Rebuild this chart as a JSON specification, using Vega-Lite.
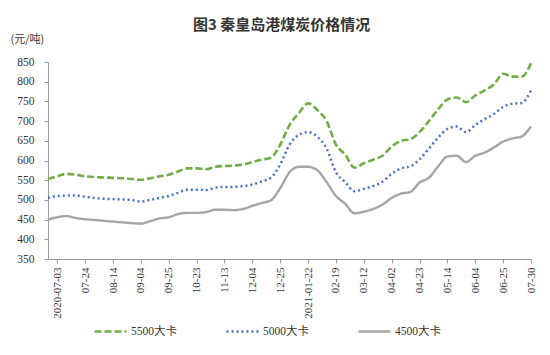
{
  "$schema": "https://vega.github.io/schema/vega-lite/v6.json",
  "width": 483,
  "height": 197,
  "autosize": {"type": "none"},
  "padding": {"left": 48, "top": 62, "right": 19, "bottom": 96},
  "background": "white",
  "title": {
    "text": "图3 秦皇岛港煤炭价格情况",
    "font": "Noto Sans CJK SC",
    "fontSize": 15,
    "fontWeight": "bold",
    "color": "#333333",
    "anchor": "middle",
    "frame": "group",
    "dx": -8,
    "offset": 0
  },
  "data": {
    "values": [
      {"date": "2020-06-26", "5500大卡": 553, "5000大卡": 505, "4500大卡": 450},
      {"date": "2020-07-03", "5500大卡": 560, "5000大卡": 510, "4500大卡": 456},
      {"date": "2020-07-10", "5500大卡": 566, "5000大卡": 511, "4500大卡": 459},
      {"date": "2020-07-17", "5500大卡": 564, "5000大卡": 511, "4500大卡": 454},
      {"date": "2020-07-24", "5500大卡": 560, "5000大卡": 508, "4500大卡": 451},
      {"date": "2020-07-31", "5500大卡": 558, "5000大卡": 505, "4500大卡": 449},
      {"date": "2020-08-07", "5500大卡": 557, "5000大卡": 503, "4500大卡": 447},
      {"date": "2020-08-14", "5500大卡": 556, "5000大卡": 502, "4500大卡": 445},
      {"date": "2020-08-21", "5500大卡": 555, "5000大卡": 501, "4500大卡": 443},
      {"date": "2020-08-28", "5500大卡": 553, "5000大卡": 500, "4500大卡": 441},
      {"date": "2020-09-04", "5500大卡": 551, "5000大卡": 496, "4500大卡": 440},
      {"date": "2020-09-11", "5500大卡": 555, "5000大卡": 500, "4500大卡": 446},
      {"date": "2020-09-18", "5500大卡": 560, "5000大卡": 505, "4500大卡": 453},
      {"date": "2020-09-25", "5500大卡": 564, "5000大卡": 510, "4500大卡": 456},
      {"date": "2020-10-09", "5500大卡": 572, "5000大卡": 518, "4500大卡": 464},
      {"date": "2020-10-16", "5500大卡": 580, "5000大卡": 526, "4500大卡": 467},
      {"date": "2020-10-23", "5500大卡": 580, "5000大卡": 526, "4500大卡": 467},
      {"date": "2020-10-30", "5500大卡": 578, "5000大卡": 525, "4500大卡": 469},
      {"date": "2020-11-06", "5500大卡": 584, "5000大卡": 531, "4500大卡": 475},
      {"date": "2020-11-13", "5500大卡": 586, "5000大卡": 533, "4500大卡": 475},
      {"date": "2020-11-20", "5500大卡": 587, "5000大卡": 533, "4500大卡": 474},
      {"date": "2020-11-27", "5500大卡": 590, "5000大卡": 535, "4500大卡": 477},
      {"date": "2020-12-04", "5500大卡": 596, "5000大卡": 539, "4500大卡": 485},
      {"date": "2020-12-11", "5500大卡": 602, "5000大卡": 547, "4500大卡": 492},
      {"date": "2020-12-18", "5500大卡": 607, "5000大卡": 556, "4500大卡": 499},
      {"date": "2020-12-25", "5500大卡": 640, "5000大卡": 590, "4500大卡": 530},
      {"date": "2021-01-08", "5500大卡": 690, "5000大卡": 640, "4500大卡": 570},
      {"date": "2021-01-15", "5500大卡": 720, "5000大卡": 665, "4500大卡": 584},
      {"date": "2021-01-22", "5500大卡": 745, "5000大卡": 672, "4500大卡": 584},
      {"date": "2021-01-29", "5500大卡": 728, "5000大卡": 660, "4500大卡": 575},
      {"date": "2021-02-05", "5500大卡": 700, "5000大卡": 630, "4500大卡": 545},
      {"date": "2021-02-19", "5500大卡": 640, "5000大卡": 570, "4500大卡": 510},
      {"date": "2021-02-26", "5500大卡": 615, "5000大卡": 545, "4500大卡": 490},
      {"date": "2021-03-05", "5500大卡": 582, "5000大卡": 522, "4500大卡": 466},
      {"date": "2021-03-12", "5500大卡": 593, "5000大卡": 528, "4500大卡": 470},
      {"date": "2021-03-19", "5500大卡": 602, "5000大卡": 535, "4500大卡": 477},
      {"date": "2021-03-26", "5500大卡": 612, "5000大卡": 546, "4500大卡": 488},
      {"date": "2021-04-02", "5500大卡": 635, "5000大卡": 566, "4500大卡": 505},
      {"date": "2021-04-09", "5500大卡": 650, "5000大卡": 580, "4500大卡": 516},
      {"date": "2021-04-16", "5500大卡": 654, "5000大卡": 585, "4500大卡": 520},
      {"date": "2021-04-23", "5500大卡": 672, "5000大卡": 603, "4500大卡": 544},
      {"date": "2021-04-30", "5500大卡": 700, "5000大卡": 630, "4500大卡": 556},
      {"date": "2021-05-07", "5500大卡": 730, "5000大卡": 658, "4500大卡": 585},
      {"date": "2021-05-14", "5500大卡": 755, "5000大卡": 680, "4500大卡": 610},
      {"date": "2021-05-21", "5500大卡": 760, "5000大卡": 686, "4500大卡": 612},
      {"date": "2021-05-28", "5500大卡": 748, "5000大卡": 672, "4500大卡": 596},
      {"date": "2021-06-04", "5500大卡": 765, "5000大卡": 690, "4500大卡": 612},
      {"date": "2021-06-11", "5500大卡": 778, "5000大卡": 705, "4500大卡": 620},
      {"date": "2021-06-18", "5500大卡": 793, "5000大卡": 718, "4500大卡": 633},
      {"date": "2021-06-25", "5500大卡": 820, "5000大卡": 736, "4500大卡": 648},
      {"date": "2021-07-09", "5500大卡": 813, "5000大卡": 744, "4500大卡": 656},
      {"date": "2021-07-16", "5500大卡": 813, "5000大卡": 746, "4500大卡": 661},
      {"date": "2021-07-30", "5500大卡": 847, "5000大卡": 778, "4500大卡": 687}
    ]
  },
  "transform": [
    {"fold": ["5500大卡", "5000大卡", "4500大卡"], "as": ["series", "price"]}
  ],
  "mark": {"type": "line", "interpolate": "monotone"},
  "encoding": {
    "x": {
      "field": "date",
      "type": "ordinal",
      "scale": {"type": "point", "padding": 0},
      "axis": {
        "title": null,
        "values": ["2020-07-03", "2020-07-24", "2020-08-14", "2020-09-04", "2020-09-25", "2020-10-23", "2020-11-13", "2020-12-04", "2020-12-25", "2021-01-22", "2021-02-19", "2021-03-12", "2021-04-02", "2021-04-23", "2021-05-14", "2021-06-04", "2021-06-25", "2021-07-30"],
        "labelExpr": "datum.value == '2020-07-03' || datum.value == '2021-01-22' ? datum.value : slice(datum.value, 5)",
        "labelAngle": -90,
        "labelAlign": "right",
        "labelBaseline": "middle",
        "labelFont": "Liberation Serif",
        "labelFontSize": 11,
        "labelColor": "#333333",
        "labelPadding": 4,
        "labelOverlap": false,
        "tickSize": 4,
        "tickColor": "#999999",
        "domainColor": "#999999",
        "grid": false
      }
    },
    "y": {
      "field": "price",
      "type": "quantitative",
      "scale": {"domain": [350, 850], "nice": false, "zero": false},
      "axis": {
        "values": [350, 400, 450, 500, 550, 600, 650, 700, 750, 800, 850],
        "title": "(元/吨)",
        "titleAngle": 0,
        "titleAlign": "left",
        "titleBaseline": "middle",
        "titleX": -38,
        "titleY": -23,
        "titleFont": "Noto Sans CJK SC",
        "titleFontSize": 11,
        "titleFontWeight": "normal",
        "titleColor": "#333333",
        "grid": false,
        "labelFont": "Liberation Serif",
        "labelFontSize": 11.5,
        "labelColor": "#333333",
        "labelPadding": 10,
        "tickSize": 4,
        "tickColor": "#999999",
        "domainColor": "#999999"
      }
    },
    "color": {
      "field": "series",
      "type": "nominal",
      "scale": {"domain": ["5500大卡", "5000大卡", "4500大卡"], "range": ["#70AD47", "#4472C4", "#A5A5A5"]},
      "legend": {
        "title": null,
        "orient": "none",
        "direction": "horizontal",
        "legendX": 45,
        "legendY": 252,
        "symbolType": "stroke",
        "symbolSize": 1024,
        "symbolStrokeWidth": 2.5,
        "labelFont": "Liberation Serif, Noto Sans CJK SC",
        "labelFontSize": 11.5,
        "labelColor": "#333333",
        "labelOffset": 3,
        "columnPadding": 44
      }
    },
    "strokeDash": {
      "field": "series",
      "type": "nominal",
      "scale": {"domain": ["5500大卡", "5000大卡", "4500大卡"], "range": [[7, 3], [2, 3], [1, 0]]}
    },
    "strokeWidth": {
      "field": "series",
      "type": "nominal",
      "scale": {"domain": ["5500大卡", "5000大卡", "4500大卡"], "range": [2.6, 2.4, 1.8]}
    }
  },
  "config": {
    "view": {"stroke": null}
  }
}
